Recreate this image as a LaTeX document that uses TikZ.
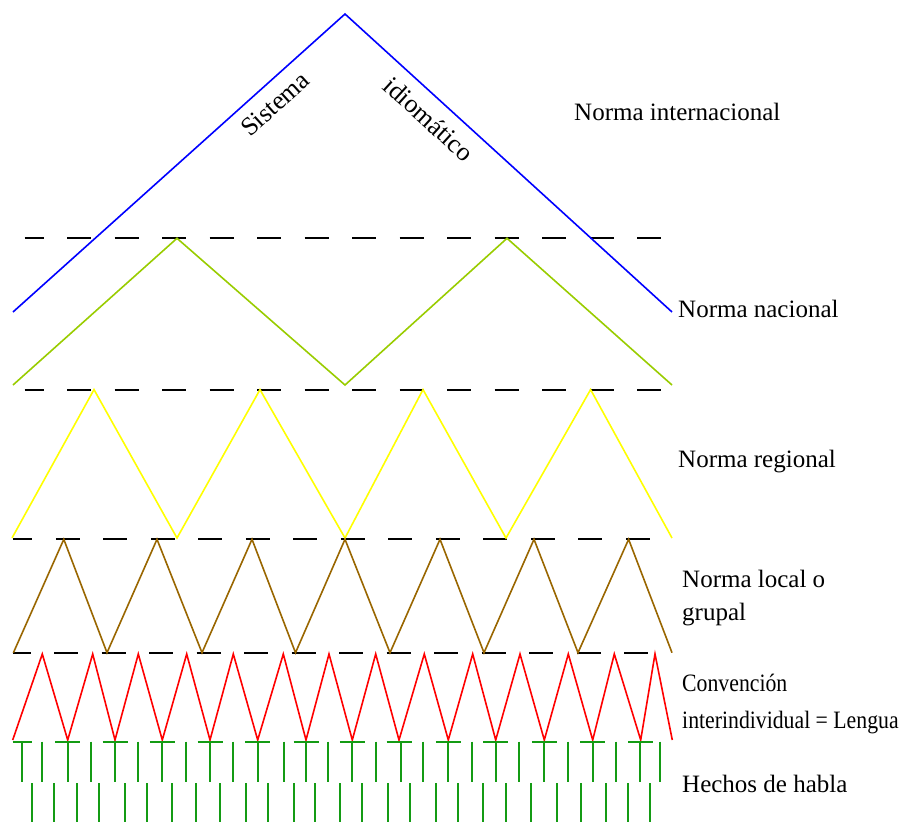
\documentclass[tikz,border=0pt]{standalone}
\usepackage{fontspec}
\setmainfont{Liberation Serif}
\definecolor{cblue}{RGB}{0,0,255}
\definecolor{cygreen}{RGB}{153,204,0}
\definecolor{cyellow}{RGB}{255,255,0}
\definecolor{cbrown}{RGB}{153,102,0}
\definecolor{cred}{RGB}{255,0,0}
\definecolor{cgreen}{RGB}{20,155,20}
\begin{document}
\begin{tikzpicture}[x=1pt,y=-1pt,
  zig/.style={line width=1.6pt, line join=miter},
  sep/.style={black, line width=2pt, dash pattern=on 24pt off 23.5pt},
  lab/.style={anchor=base west, inner sep=0pt, font=\fontsize{25}{30}\selectfont},
  rot/.style={inner sep=0pt, font=\fontsize{26}{30}\selectfont},
  tick/.style={cgreen, line width=2pt}]
\useasboundingbox (0,0) rectangle (904,822);

% separators
\draw[sep, dash phase=5pt] (24.5,238.3) -- (664,238.3);
\draw[sep, dash phase=5pt] (24.5,389.6) -- (664,389.6);
\draw[sep, dash phase=5pt] (13.4,539.3) -- (654,539.3);
\draw[sep, dash phase=6pt] (12.7,652.7) -- (651,652.7);

% blue
\draw[zig, cblue] (13,312) -- (345,14) -- (672,312);
% yellow-green
\draw[zig, cygreen] (13,385) -- (177,238.3) -- (345,385) -- (507,238.3) -- (672,385);
% yellow
\draw[zig, cyellow] (12,538) -- (94,389.6) -- (177,538) -- (260,389.6) -- (345,538)
  -- (423,389.6) -- (506,538) -- (590.6,389.6) -- (672,538);
% brown
\draw[zig, cbrown] (13.4,652.7) -- (63.8,539.3) -- (107,652.7) -- (157,539.3) -- (202,652.7)
  -- (252,539.3) -- (295.5,652.7) -- (345,539.3) -- (390,652.7) -- (440,539.3) -- (484,652.7)
  -- (534,539.3) -- (578,652.7) -- (628.6,539.3) -- (672,652.7);
% red
\draw[zig, cred] (12.7,740) -- (42.3,654) -- (67.7,740) -- (92.7,654) -- (115,740)
  -- (138.3,654) -- (162.3,740) -- (186.7,654) -- (210,740) -- (233.3,654) -- (257.7,740)
  -- (283.3,654) -- (306,740) -- (329,654) -- (352.3,740) -- (375.7,654) -- (399,740)
  -- (424.3,654) -- (448.3,740) -- (472.7,654) -- (495.7,740) -- (520,654) -- (544.3,740)
  -- (568.3,654) -- (592.7,740) -- (614.3,654) -- (640.7,740) -- (655,654) -- (672.3,740);

% green speech acts
\draw[tick] (12.7,741.5) -- (32.3,741.5);
\foreach \x in {67.7,115,162.3,210,257.7,306,352.3,399,448.3,495.7,544.3,592.7,640.7}
  \draw[tick] (\x-12.5,741.5) -- (\x+12.5,741.5);
\foreach \x in {22.3,42.3,67.7,90.7,115,137.7,162.3,186,210,233.3,257.7,284.3,306,328.3,
  352.3,375.7,400.7,423.3,448.3,472.3,495.7,519.3,544.3,567.7,592.7,616,640,660}
  \draw[tick] (\x,741.5) -- (\x,782);
\foreach \x in {32.3,54,77.3,99.3,125,147.3,172.3,196,220,246,267.7,294,315,340,362.3,
  388.3,410,435.7,457.7,483.3,506,531,556.7,581,605.7,627.7,650}
  \draw[tick] (\x,783) -- (\x,822);

% labels
\node[rot, rotate=42] (sis) at (275,104) {Sistema};
\node[rot, rotate=-42.3] (idi) at (429,119) {idiomático};
\node[lab] (ni) at (574,120) {Norma internacional};
\node[lab] (nn) at (678,317) {Norma nacional};
\node[lab] (nr) at (678,467) {Norma regional};
\node[lab] (nl1) at (682,587) {Norma local o};
\node[lab] (nl2) at (682,620) {grupal};
\node[lab] (ci1) at (682,691) {\scalebox{0.87}[1]{Convención}};
\node[lab] (ci2) at (682,728) {\scalebox{0.87}[1]{interindividual = Lengua}};
\node[lab] (hh) at (682,792) {Hechos de habla};
\end{tikzpicture}
\end{document}
